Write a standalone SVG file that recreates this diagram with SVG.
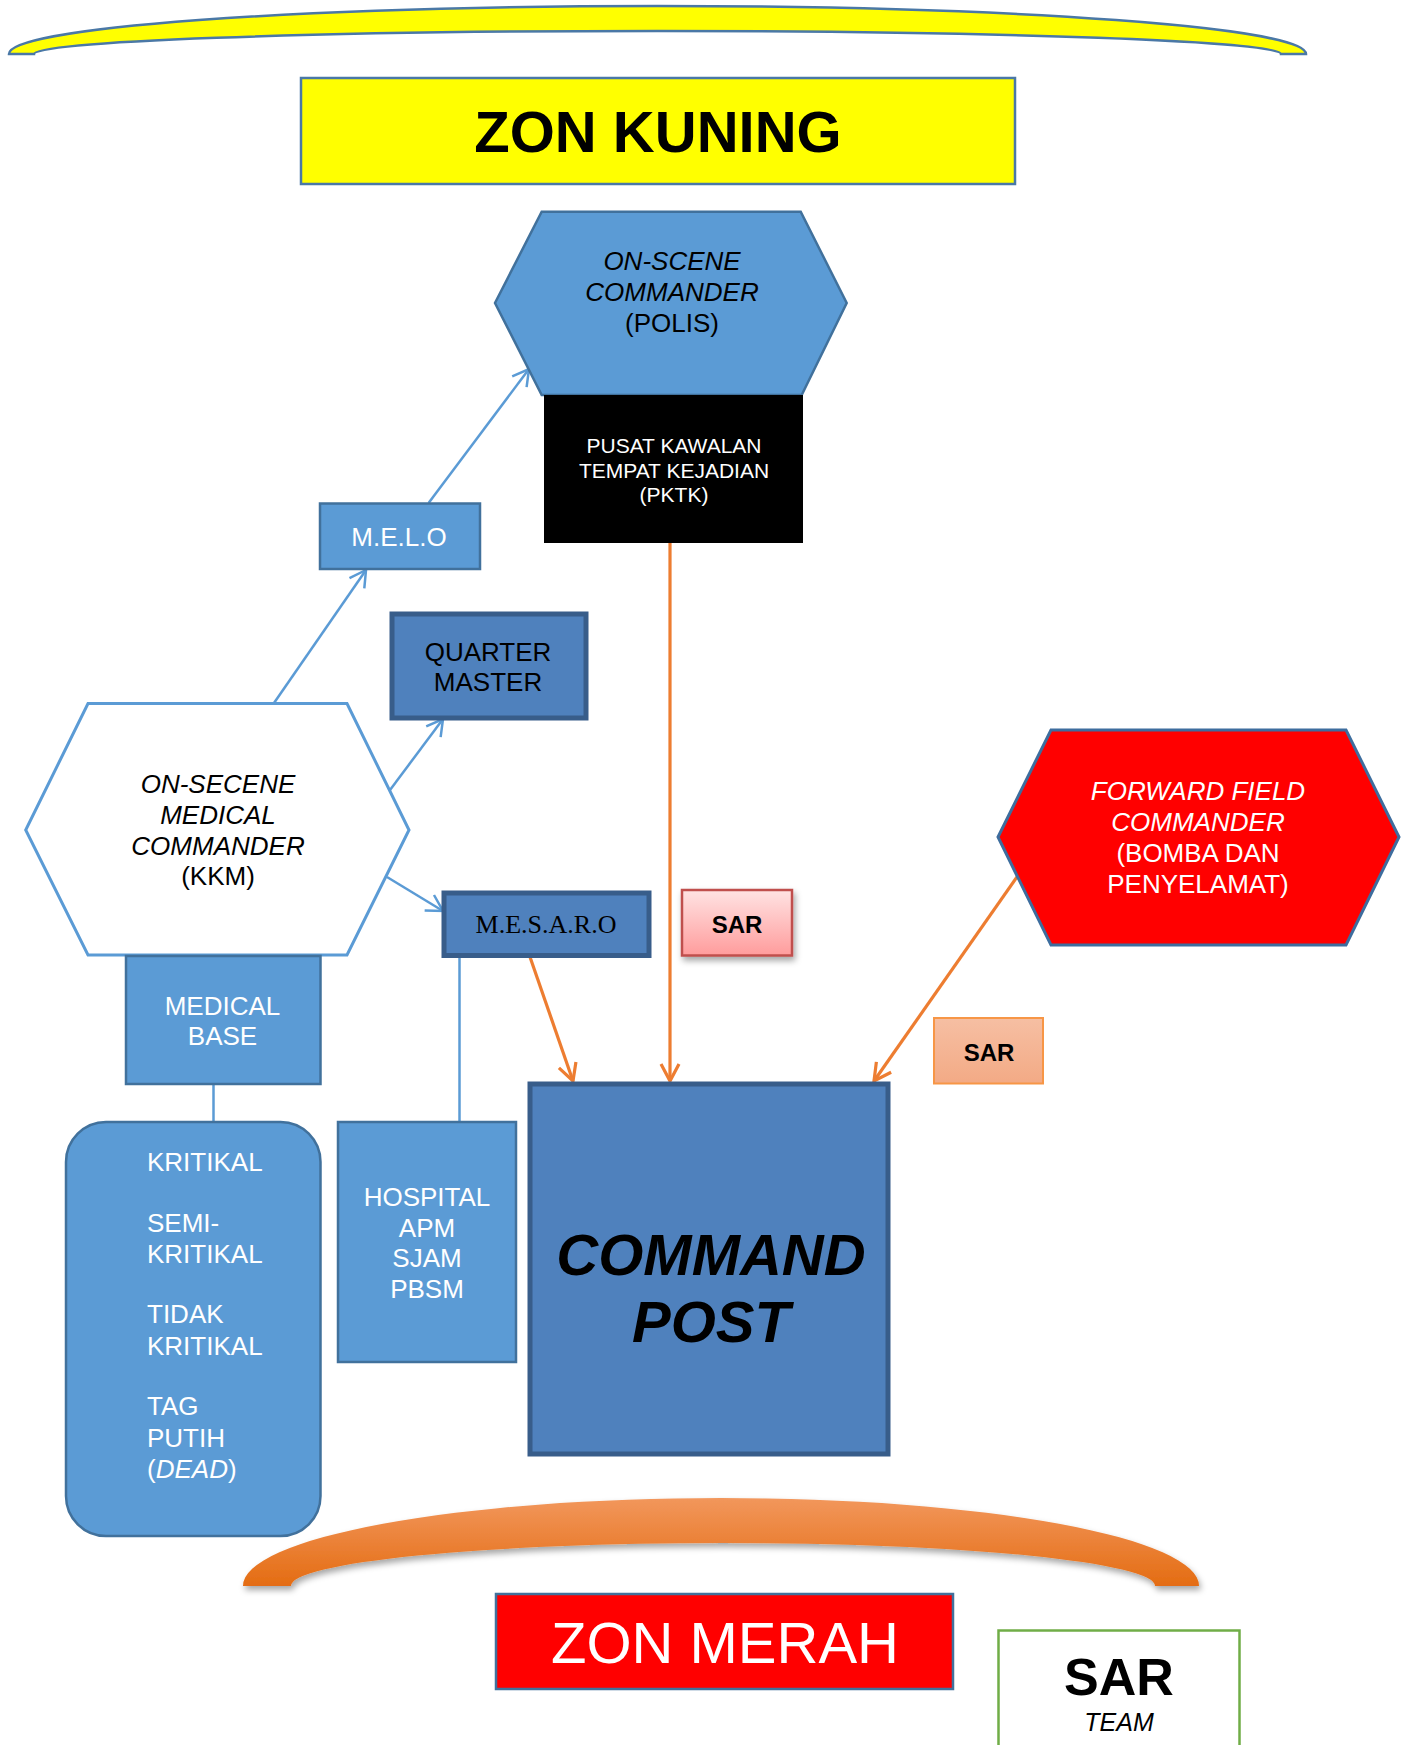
<svg xmlns="http://www.w3.org/2000/svg" width="1405" height="1745" viewBox="0 0 1405 1745">
<defs>
<style>
.t{font-family:"Liberation Sans",Arial,sans-serif;font-size:26px;text-anchor:middle}
.w{fill:#ffffff}
.k{fill:#000000}
.i{font-style:italic}
.mid{fill:#5b9bd5;stroke:#41719c;stroke-width:2.5}
.dark{fill:#4f81bd;stroke:#385d8a;stroke-width:5}
.bl{fill:none;stroke:#5b9bd5;stroke-width:2.5}
.or{fill:none;stroke:#ed7d31;stroke-width:3.2}
</style>
<marker id="ab" markerUnits="userSpaceOnUse" viewBox="-20 -12 24 24" markerWidth="24" markerHeight="24" refX="0" refY="0" orient="auto" overflow="visible">
<path d="M-16,-9 L0,0 L-16,9" fill="none" stroke="#5b9bd5" stroke-width="2.5"/>
</marker>
<marker id="ao" markerUnits="userSpaceOnUse" viewBox="-20 -12 24 24" markerWidth="24" markerHeight="24" refX="0" refY="0" orient="auto" overflow="visible">
<path d="M-17,-9 L0,0 L-17,9" fill="none" stroke="#ed7d31" stroke-width="3.2"/>
</marker>
<linearGradient id="gpink" x1="0" y1="0" x2="0" y2="1">
<stop offset="0" stop-color="#ffe3e3"/>
<stop offset="1" stop-color="#ff9c9c"/>
</linearGradient>
<linearGradient id="gpeach" x1="0" y1="0" x2="0" y2="1">
<stop offset="0" stop-color="#f6bfa3"/>
<stop offset="1" stop-color="#f3aa85"/>
</linearGradient>
<linearGradient id="gor" x1="0" y1="0" x2="0" y2="1">
<stop offset="0" stop-color="#f2975c"/>
<stop offset="1" stop-color="#e46c12"/>
</linearGradient>
<filter id="sh" x="-20%" y="-20%" width="140%" height="150%">
<feDropShadow dx="2" dy="4" stdDeviation="3" flood-color="#000" flood-opacity="0.35"/>
</filter>
</defs>

<g id="zon-kuning-arc">
<path d="M9,54 A648.5,48 0 0 1 1306,54 L1281,54 A623.5,23 0 0 0 34,54 Z" fill="#ffff00" stroke="#4a78a6" stroke-width="2.5"/>
</g>

<g id="zon-kuning">
<rect x="301" y="78" width="714" height="106" fill="#ffff00" stroke="#4a78a6" stroke-width="2.5"/>
<text x="658" y="152" class="t k" style="font-size:58px;font-weight:bold">ZON KUNING</text>
</g>

<g id="connectors">
<line x1="428.6" y1="503" x2="529" y2="369" class="bl" marker-end="url(#ab)"/>
<line x1="274" y1="703" x2="366" y2="570" class="bl" marker-end="url(#ab)"/>
<line x1="390" y1="790" x2="443" y2="719" class="bl" marker-end="url(#ab)"/>
<line x1="387" y1="877" x2="443" y2="911" class="bl" marker-end="url(#ab)"/>
<line x1="213.5" y1="1084" x2="213.5" y2="1122" class="bl"/>
<line x1="459.5" y1="957" x2="459.5" y2="1122" class="bl"/>
<line x1="530" y1="957" x2="573" y2="1081" class="or" marker-end="url(#ao)"/>
<line x1="670" y1="543" x2="670" y2="1081" class="or" marker-end="url(#ao)"/>
<line x1="1017" y1="877" x2="874" y2="1081" class="or" marker-end="url(#ao)"/>
</g>

<g id="on-scene-commander">
<polygon points="541.7,211.7 800.7,211.7 846.7,303 801.7,395 541.7,395 495,303" fill="#5b9bd5" stroke="#41719c" stroke-width="2.5"/>
<text x="672" y="270" class="t k i">ON-SCENE</text>
<text x="672" y="301" class="t k i">COMMANDER</text>
<text x="672" y="332" class="t k">(POLIS)</text>
</g>

<g id="pktk">
<rect x="544" y="395" width="259" height="148" fill="#000000"/>
<text x="674" y="453" class="t w" style="font-size:21px">PUSAT KAWALAN</text>
<text x="674" y="477.5" class="t w" style="font-size:21px">TEMPAT KEJADIAN</text>
<text x="674" y="502" class="t w" style="font-size:21px">(PKTK)</text>
</g>

<g id="melo">
<rect x="320" y="503.5" width="160" height="65.5" class="mid"/>
<text x="399" y="546" class="t w">M.E.L.O</text>
</g>

<g id="quarter-master">
<rect x="392" y="614" width="194" height="104" class="dark"/>
<text x="488" y="661" class="t k">QUARTER</text>
<text x="488" y="691" class="t k">MASTER</text>
</g>

<g id="medical-commander">
<polygon points="88,703.5 347,703.5 409,830 347,955 88,955 25.7,830" fill="#ffffff" stroke="#5b9bd5" stroke-width="3"/>
<text x="218" y="793" class="t k i">ON-SECENE</text>
<text x="218" y="823.5" class="t k i">MEDICAL</text>
<text x="218" y="854.5" class="t k i">COMMANDER</text>
<text x="218" y="885" class="t k">(KKM)</text>
</g>

<g id="mesaro">
<rect x="444" y="893" width="205" height="62.5" class="dark"/>
<text x="546" y="933" class="k" style="font-family:'Liberation Serif','Times New Roman',serif;font-size:26px;text-anchor:middle">M.E.S.A.R.O</text>
</g>

<g id="sar-1">
<rect x="682" y="890" width="110" height="65.5" fill="url(#gpink)" stroke="#c0504d" stroke-width="2.5" filter="url(#sh)"/>
<text x="737" y="932.5" class="t k" style="font-size:24px;font-weight:bold">SAR</text>
</g>

<g id="forward-field-commander">
<polygon points="1051,730 1346,730 1399,837 1346,945 1051,945 998,837" fill="#ff0000" stroke="#3d6d9e" stroke-width="3"/>
<text x="1198" y="800" class="t w i">FORWARD FIELD</text>
<text x="1198" y="831" class="t w i">COMMANDER</text>
<text x="1198" y="862" class="t w">(BOMBA DAN</text>
<text x="1198" y="893" class="t w">PENYELAMAT)</text>
</g>

<g id="sar-2">
<rect x="934" y="1018" width="109" height="65.5" fill="url(#gpeach)" stroke="#f79646" stroke-width="2"/>
<text x="989" y="1061" class="t k" style="font-size:24px;font-weight:bold">SAR</text>
</g>

<g id="medical-base">
<rect x="126" y="956" width="194.5" height="128" class="mid"/>
<text x="222.5" y="1015" class="t w">MEDICAL</text>
<text x="222.5" y="1045" class="t w">BASE</text>
</g>

<g id="triage">
<rect x="66" y="1122" width="254.5" height="414" rx="40" ry="40" class="mid"/>
<g class="w" style="font-family:'Liberation Sans',Arial,sans-serif;font-size:26px">
<text x="147" y="1171">KRITIKAL</text>
<text x="147" y="1232">SEMI-</text>
<text x="147" y="1263">KRITIKAL</text>
<text x="147" y="1323">TIDAK</text>
<text x="147" y="1355">KRITIKAL</text>
<text x="147" y="1415">TAG</text>
<text x="147" y="1447">PUTIH</text>
<text x="147" y="1478">(<tspan font-style="italic">DEAD</tspan>)</text>
</g>
</g>

<g id="hospital">
<rect x="338" y="1122" width="178" height="240" class="mid"/>
<text x="427" y="1206" class="t w">HOSPITAL</text>
<text x="427" y="1237" class="t w">APM</text>
<text x="427" y="1267" class="t w">SJAM</text>
<text x="427" y="1298" class="t w">PBSM</text>
</g>

<g id="command-post">
<rect x="530" y="1084" width="358" height="370" class="dark"/>
<text x="711" y="1275" class="t k" style="font-size:58px;font-weight:bold;font-style:italic">COMMAND</text>
<text x="711" y="1342" class="t k" style="font-size:58px;font-weight:bold;font-style:italic">POST</text>
</g>

<g id="zon-merah-arc">
<path d="M243,1586 A478,88 0 0 1 1199,1586 L1155,1586 A432,43 0 0 0 291,1586 Z" fill="url(#gor)" filter="url(#sh)"/>
</g>

<g id="zon-merah">
<rect x="496" y="1594" width="457" height="95" fill="#ff0000" stroke="#41719c" stroke-width="2.5"/>
<text x="725" y="1663" class="t w" style="font-size:58px">ZON MERAH</text>
</g>

<g id="sar-team">
<rect x="998.5" y="1630.5" width="241" height="130" fill="#ffffff" stroke="#70ad47" stroke-width="2.5"/>
<text x="1119" y="1695" class="t k" style="font-size:52px;font-weight:bold">SAR</text>
<text x="1119" y="1731" class="t k i" style="font-size:25px">TEAM</text>
</g>
</svg>
